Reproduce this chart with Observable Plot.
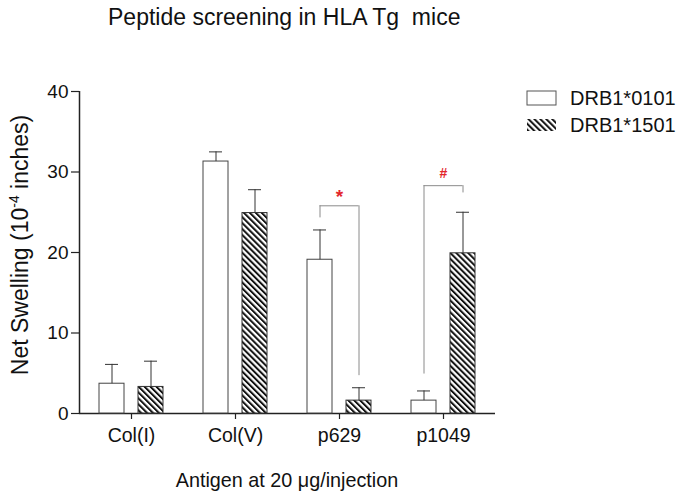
<!DOCTYPE html>
<html>
<head>
<meta charset="utf-8">
<script src="https://cdn.jsdelivr.net/npm/d3@7"></script>
<script src="https://cdn.jsdelivr.net/npm/@observablehq/plot@0.6"></script>
<style>
  html, body { margin: 0; padding: 0; background: #fff; }
  #wrap { position: relative; width: 683px; height: 497px; font-family: "Liberation Sans", Arial, sans-serif; color: #111; }
  #wrap svg.plot { position: absolute; left: 0; top: 0; }
  .abs { position: absolute; white-space: nowrap; line-height: normal; }
</style>
</head>
<body>
<div id="wrap"></div>
<script>
// ---- data ----
const antigens = ["Col(I)", "Col(V)", "p629", "p1049"];
const seriesNames = ["DRB1*0101", "DRB1*1501"];
const mean0101 = [3.7, 31.3, 19.1, 1.6];
const err0101 = [2.4, 1.2, 3.7, 1.2];
const mean1501 = [3.3, 24.9, 1.6, 19.9];
const err1501 = [3.2, 2.9, 1.6, 5.1];
const yTicks = [0, 10, 20, 30, 40];
const bracketAntigen = ["p629", "p1049"];
const bracketTop = [25.8, 28.3];
const bracketLeftEnd = [24.3, 4.9];
const bracketRightEnd = [4.7, 27.4];
const bracketLabel = ["*", "#"];
const bracketLabelY = [26.9, 29.8];
const titleText = "Peptide screening in HLA Tg\u00a0\u00a0mice";
const xTitle = "Antigen at 20 \u03bcg/injection";

// ---- tables ----
const rowsA = antigens.map((a, i) => ({antigen: a, mean: mean0101[i], err: err0101[i]}));
const rowsB = antigens.map((a, i) => ({antigen: a, mean: mean1501[i], err: err1501[i]}));
const brackets = bracketAntigen.map((a, i) => ({antigen: a, top: bracketTop[i], left: bracketLeftEnd[i], right: bracketRightEnd[i], label: bracketLabel[i], ly: bracketLabelY[i]}));

const font = "'Liberation Sans', Arial, sans-serif";
const axisColor = "#222";
const bracketColor = "#8a8a8a";
const red = "#e3262c";

const chart = Plot.plot({
  width: 683,
  height: 497,
  marginLeft: 79,
  marginRight: 188,
  marginTop: 91,
  marginBottom: 84,
  style: {fontFamily: font, background: "transparent", color: axisColor},
  x: {domain: antigens, padding: 0, axis: null},
  y: {domain: [0, 40], axis: null},
  marks: [
    // axes
    Plot.axisY({ticks: yTicks, tickSize: 8, tickPadding: 3, fontSize: 19, label: null, stroke: axisColor, strokeWidth: 1.2, fill: "#111"}),
    Plot.axisX({tickSize: 6, tickPadding: 9, fontSize: 19.5, label: null, stroke: axisColor, strokeWidth: 1.2, fill: "#111"}),
    Plot.ruleY([0], {stroke: axisColor, strokeWidth: 1.5}),
    Plot.ruleX([antigens[0]], {y1: 0, y2: 40, dx: -52, stroke: axisColor, strokeWidth: 1.5}),
    // bars
    Plot.barY(rowsA, {x: "antigen", y: "mean", insetLeft: 20, insetRight: 59, fill: "white", stroke: "#444", strokeWidth: 1}),
    Plot.barY(rowsB, {x: "antigen", y: "mean", insetLeft: 59, insetRight: 20, fill: "url(#hatch)", stroke: "#333", strokeWidth: 1}),
    // error bars (upper only)
    Plot.ruleX(rowsA, {x: "antigen", y1: "mean", y2: d => d.mean + d.err, dx: -19.5, stroke: "#333", strokeWidth: 1}),
    Plot.tickY(rowsA, {x: "antigen", y: d => d.mean + d.err, insetLeft: 26, insetRight: 65, stroke: "#333", strokeWidth: 1}),
    Plot.ruleX(rowsB, {x: "antigen", y1: "mean", y2: d => d.mean + d.err, dx: 19.5, stroke: "#333", strokeWidth: 1}),
    Plot.tickY(rowsB, {x: "antigen", y: d => d.mean + d.err, insetLeft: 65, insetRight: 26, stroke: "#333", strokeWidth: 1}),
    // significance brackets
    Plot.ruleX(brackets, {x: "antigen", y1: "left", y2: "top", dx: -19.5, stroke: bracketColor, strokeWidth: 1}),
    Plot.ruleX(brackets, {x: "antigen", y1: "right", y2: "top", dx: 19.5, stroke: bracketColor, strokeWidth: 1}),
    Plot.tickY(brackets, {x: "antigen", y: "top", insetLeft: 32.5, insetRight: 32.5, stroke: bracketColor, strokeWidth: 1}),
    Plot.text(brackets.filter(d => d.label === "*"), {x: "antigen", y: "ly", text: "label", fill: red, fontWeight: "bold", fontSize: 19, lineAnchor: "middle"}),
    Plot.text(brackets.filter(d => d.label === "#"), {x: "antigen", y: "ly", text: "label", fill: red, fontWeight: "bold", fontSize: 14, lineAnchor: "middle"})
  ]
});
chart.classList.add("plot");

// hatch pattern
const svg = d3.select(chart);
const defs = svg.insert("defs", ":first-child");
const pat = defs.append("pattern").attr("id", "hatch").attr("patternUnits", "userSpaceOnUse")
  .attr("width", 4.2).attr("height", 4.2).attr("patternTransform", "rotate(-45)");
pat.append("rect").attr("width", 4.2).attr("height", 4.2).attr("fill", "white");
pat.append("line").attr("x1", 1).attr("y1", 0).attr("x2", 1).attr("y2", 4.2).attr("stroke", "#111").attr("stroke-width", 2);

const wrap = document.getElementById("wrap");
wrap.appendChild(chart);

// title
const t = document.createElement("div");
t.className = "abs";
t.style.cssText = "left:108px; top:4px; font-size:23px;";
t.textContent = titleText;
wrap.appendChild(t);

// y label
const yl = document.createElement("div");
yl.className = "abs";
yl.style.cssText = "left:20px; top:245px; font-size:23px; transform: translate(-50%,-50%) rotate(-90deg);";
yl.innerHTML = "Net Swelling (10<span style='font-size:14px; position:relative; top:-9px'>-4</span> inches)";
wrap.appendChild(yl);

// x title
const xt = document.createElement("div");
xt.className = "abs";
xt.style.cssText = "left:287px; top:480px; font-size:19.8px; transform: translate(-50%,-50%);";
xt.textContent = xTitle;
wrap.appendChild(xt);

// legend
const legendRows = [
  {name: seriesNames[0], fill: "white", stroke: "#555", top: 91, h: 14},
  {name: seriesNames[1], fill: "url(#hatch)", stroke: "none", top: 119, h: 12}
];
legendRows.forEach(r => {
  const sw = document.createElementNS("http://www.w3.org/2000/svg", "svg");
  sw.setAttribute("width", 31); sw.setAttribute("height", r.h + 2);
  sw.style.cssText = `position:absolute; left:526px; top:${r.top - 1}px;`;
  const rect = document.createElementNS("http://www.w3.org/2000/svg", "rect");
  rect.setAttribute("x", 1); rect.setAttribute("y", 1); rect.setAttribute("width", 29); rect.setAttribute("height", r.h);
  rect.setAttribute("fill", r.fill); rect.setAttribute("stroke", r.stroke);
  sw.appendChild(rect);
  wrap.appendChild(sw);
  const lab = document.createElement("div");
  lab.className = "abs";
  lab.style.cssText = `left:570px; top:${r.top + r.h / 2}px; font-size:20px; transform: translateY(-50%);`;
  lab.textContent = r.name;
  wrap.appendChild(lab);
});
</script>
</body>
</html>
